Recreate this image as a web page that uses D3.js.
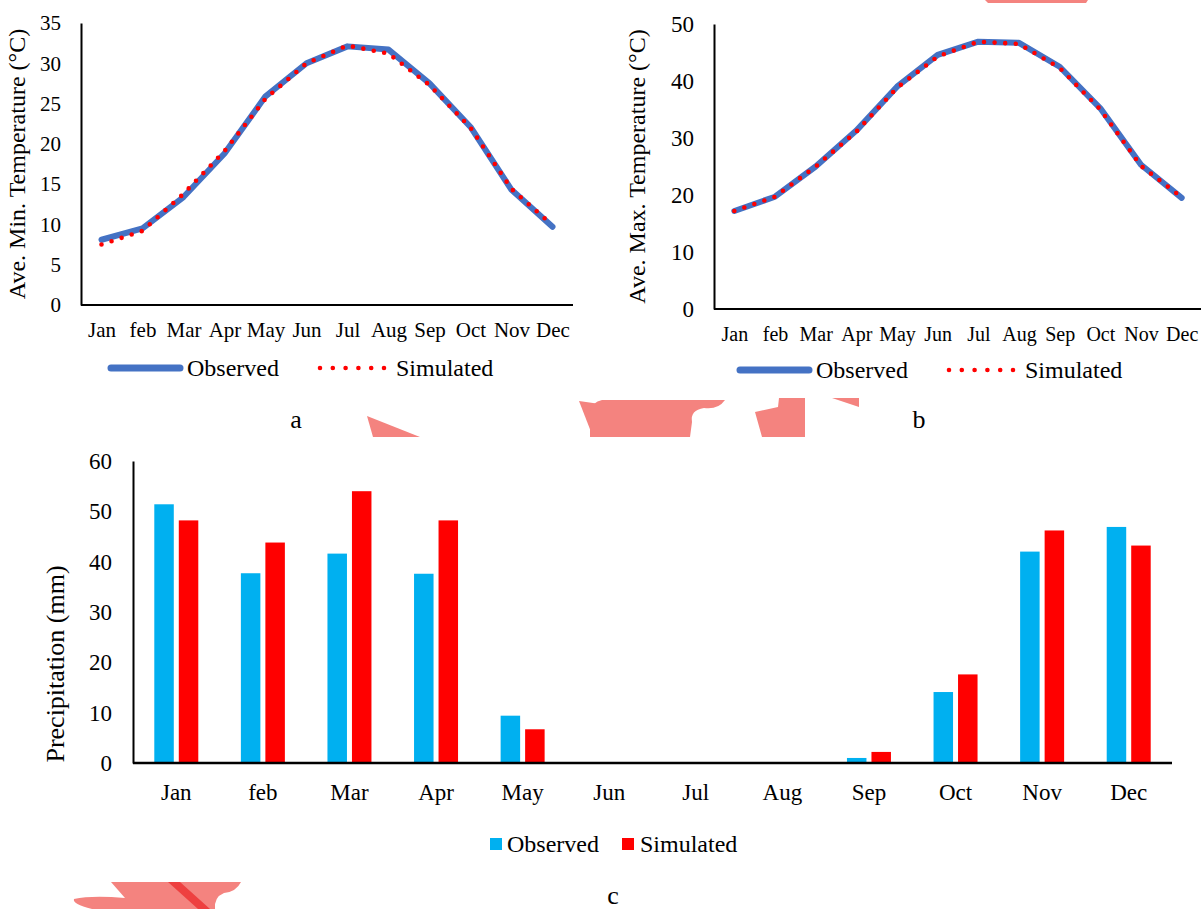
<!DOCTYPE html>
<html>
<head>
<meta charset="utf-8">
<script src="https://cdn.jsdelivr.net/npm/d3@7"></script>
<style>
  body { margin: 0; background: #fff; }
  text { font-family: "Liberation Serif", "Times New Roman", serif; fill: #000; }
</style>
</head>
<body>
<div id="fig"></div>
<script>
const months = ["Jan", "feb", "Mar", "Apr", "May", "Jun", "Jul", "Aug", "Sep", "Oct", "Nov", "Dec"];

// a: average minimum temperature (°C)
const minObserved  = [8.1, 9.5, 13.4, 18.8, 25.9, 30.0, 32.1, 31.7, 27.5, 22.1, 14.3, 9.7];
const minSimulated = [7.5, 9.2, 13.8, 19.1, 25.6, 30.0, 32.2, 31.2, 27.3, 22.0, 14.4, 9.9];
const minTicks = [0, 5, 10, 15, 20, 25, 30, 35];

// b: average maximum temperature (°C)
const maxObserved  = [17.2, 19.7, 25.0, 31.3, 39.0, 44.6, 46.9, 46.7, 42.5, 35.2, 25.3, 19.5];
const maxSimulated = [17.2, 19.7, 25.0, 31.1, 38.8, 44.3, 46.9, 46.5, 42.3, 35.0, 25.1, 19.6];
const maxTicks = [0, 10, 20, 30, 40, 50];

// c: precipitation (mm)
const precObserved  = [51.4, 37.7, 41.6, 37.6, 9.4, 0, 0, 0, 1.0, 14.1, 42.0, 46.9];
const precSimulated = [48.2, 43.8, 54.0, 48.2, 6.7, 0, 0, 0, 2.2, 17.6, 46.2, 43.2];
const precTicks = [0, 10, 20, 30, 40, 50, 60];

const seriesNames = ["Observed", "Simulated"];

const W = 1201, H = 909;
const svg = d3.select("#fig").append("svg")
    .attr("width", W).attr("height", H)
    .attr("viewBox", `0 0 ${W} ${H}`);
svg.append("rect").attr("width", W).attr("height", H).attr("fill", "#fff");

// pink stains that sit on the original figure
const stains = svg.append("g").attr("fill", "#f4837f");
[
  "M985,0 L1088,0 L1086,3 L988,3 Z",
  "M367,416 L420,437 L373,437 Z",
  "M579,401 L600,404 L600,437 L593,437 Z",
  "M590,437 L590,412 Q592,402 602,400 L725,400 Q718,410 704,408 Q690,410 692,422 L690,437 Z",
  "M755,412 L778,407 L779,398 L805,398 L805,437 L762,437 Z",
  "M832,398 L859,398 L859,407 Z",
  "M111,882 L241,882 Q236,892 224,893 Q214,897 215,909 L92,909 Q72,904 74,899 Q92,895 125,898 Z"
].forEach(d => stains.append("path").attr("d", d));
svg.append("path").attr("d", "M168,882 L180,882 L210,909 L198,909 Z").attr("fill", "#ee4040");

function lineChart(cfg) {
  const g = svg.append("g");
  const x = d3.scalePoint().domain(months).range([cfg.x0, cfg.x1]).padding(0.5);
  const y = d3.scaleLinear().domain([0, d3.max(cfg.ticks)]).range([cfg.y0, cfg.y1]);

  g.append("g")
    .attr("transform", `translate(${cfg.x0},0)`)
    .call(d3.axisLeft(y).tickValues(cfg.ticks).tickSize(0).tickPadding(20))
    .call(a => a.select(".domain").attr("stroke", "#000").attr("stroke-width", 2))
    .call(a => a.selectAll("text").style("font-size", cfg.tickFont + "px").attr("font-family", null));

  g.append("g")
    .attr("transform", `translate(0,${cfg.y0})`)
    .call(d3.axisBottom(x).tickSize(0).tickPadding(cfg.monthPad))
    .call(a => a.select(".domain").attr("stroke", "#000").attr("stroke-width", 2).attr("d", `M${cfg.x0},0H${cfg.x1}`))
    .call(a => a.selectAll("text").style("font-size", cfg.monthFont + "px").attr("font-family", null));

  g.append("text")
    .attr("transform", `translate(${cfg.titleX},${(cfg.y0 + cfg.y1) / 2}) rotate(-90)`)
    .attr("text-anchor", "middle")
    .style("font-size", "24px")
    .text(cfg.title);

  const line = d3.line().x((d, i) => x(months[i])).y(d => y(d));
  g.append("path").datum(cfg.observed)
    .attr("d", line).attr("fill", "none")
    .attr("stroke", "#4472c4").attr("stroke-width", 6)
    .attr("stroke-linejoin", "round").attr("stroke-linecap", "round");
  g.append("path").datum(cfg.simulated)
    .attr("d", line).attr("fill", "none")
    .attr("stroke", "#ff0000").attr("stroke-width", 4.6)
    .attr("stroke-dasharray", "0,10.6").attr("stroke-linecap", "round");

  // legend
  const lg = g.append("g").attr("transform", `translate(0,${cfg.legendY})`);
  lg.append("line").attr("x1", cfg.legendX).attr("x2", cfg.legendX + 69)
    .attr("stroke", "#4472c4").attr("stroke-width", 7).attr("stroke-linecap", "round");
  lg.append("text").attr("x", cfg.legendX + 76).attr("dy", "0.34em")
    .style("font-size", "24px").text(seriesNames[0]);
  lg.append("line").attr("x1", cfg.legendX + 209).attr("x2", cfg.legendX + 274)
    .attr("stroke", "#ff0000").attr("stroke-width", 4.6)
    .attr("stroke-dasharray", "0,12.8").attr("stroke-linecap", "round");
  lg.append("text").attr("x", cfg.legendX + 285).attr("dy", "0.34em")
    .style("font-size", "24px").text(seriesNames[1]);

  g.append("text").attr("x", cfg.tagX).attr("y", 428)
    .attr("text-anchor", "middle").style("font-size", "26px").text(cfg.tag);
}

lineChart({
  x0: 81, x1: 573, y0: 305, y1: 23,
  ticks: minTicks, observed: minObserved, simulated: minSimulated,
  tickFont: 21, monthFont: 21, monthPad: 17,
  title: "Ave. Min. Temperature (°C)", titleX: 25,
  legendX: 111, legendY: 368, tag: "a", tagX: 296
});

lineChart({
  x0: 714, x1: 1202, y0: 309, y1: 24,
  ticks: maxTicks, observed: maxObserved, simulated: maxSimulated,
  tickFont: 23, monthFont: 20, monthPad: 18,
  title: "Ave. Max. Temperature (°C)", titleX: 645,
  legendX: 740, legendY: 370, tag: "b", tagX: 919
});

// c: grouped bars
const gc = svg.append("g");
const cx0 = 133, cx1 = 1172, cy0 = 763, cy1 = 461;
const xc = d3.scaleBand().domain(months).range([cx0, cx1]);
const xs = d3.scaleBand().domain(seriesNames).range([-22, 22]).paddingInner(0.204);
const yc = d3.scaleLinear().domain([0, 60]).range([cy0, cy1]);
const barColor = d3.scaleOrdinal().domain(seriesNames).range(["#00b0f0", "#ff0000"]);

const rows = months.map((m, i) => ({ month: m, values: [precObserved[i], precSimulated[i]] }));
gc.append("g").selectAll("g").data(rows).join("g")
  .attr("transform", d => `translate(${xc(d.month) + xc.bandwidth() / 2},0)`)
  .selectAll("rect").data(d => d.values.map((v, k) => ({ key: seriesNames[k], v })))
  .join("rect")
    .attr("x", d => xs(d.key)).attr("width", xs.bandwidth())
    .attr("y", d => yc(d.v)).attr("height", d => cy0 - yc(d.v))
    .attr("fill", d => barColor(d.key));

gc.append("g")
  .attr("transform", `translate(${cx0},0)`)
  .call(d3.axisLeft(yc).tickValues(precTicks).tickSize(0).tickPadding(21))
  .call(a => a.select(".domain").attr("stroke", "#000").attr("stroke-width", 2))
  .call(a => a.selectAll("text").style("font-size", "23px").attr("font-family", null));

gc.append("g")
  .attr("transform", `translate(0,${cy0})`)
  .call(d3.axisBottom(xc).tickSize(0).tickPadding(21))
  .call(a => a.select(".domain").attr("stroke", "#000").attr("stroke-width", 2.5).attr("d", `M${cx0},0H${cx1}`))
  .call(a => a.selectAll("text").style("font-size", "23px").attr("font-family", null));

gc.append("text")
  .attr("transform", `translate(64,${(cy0 + 545) / 2 + 10}) rotate(-90)`)
  .attr("text-anchor", "middle")
  .style("font-size", "26px")
  .text("Precipitation (mm)");

const legC = gc.append("g").attr("transform", "translate(0,844)");
[[490, 507], [622, 640]].forEach(([sx, tx], k) => {
  legC.append("rect").attr("x", sx).attr("y", -6).attr("width", 12).attr("height", 12)
    .attr("fill", barColor(seriesNames[k]));
  legC.append("text").attr("x", tx).attr("dy", "0.34em")
    .style("font-size", "24px").text(seriesNames[k]);
});

gc.append("text").attr("x", 613).attr("y", 904)
  .attr("text-anchor", "middle").style("font-size", "26px").text("c");
</script>
</body>
</html>
